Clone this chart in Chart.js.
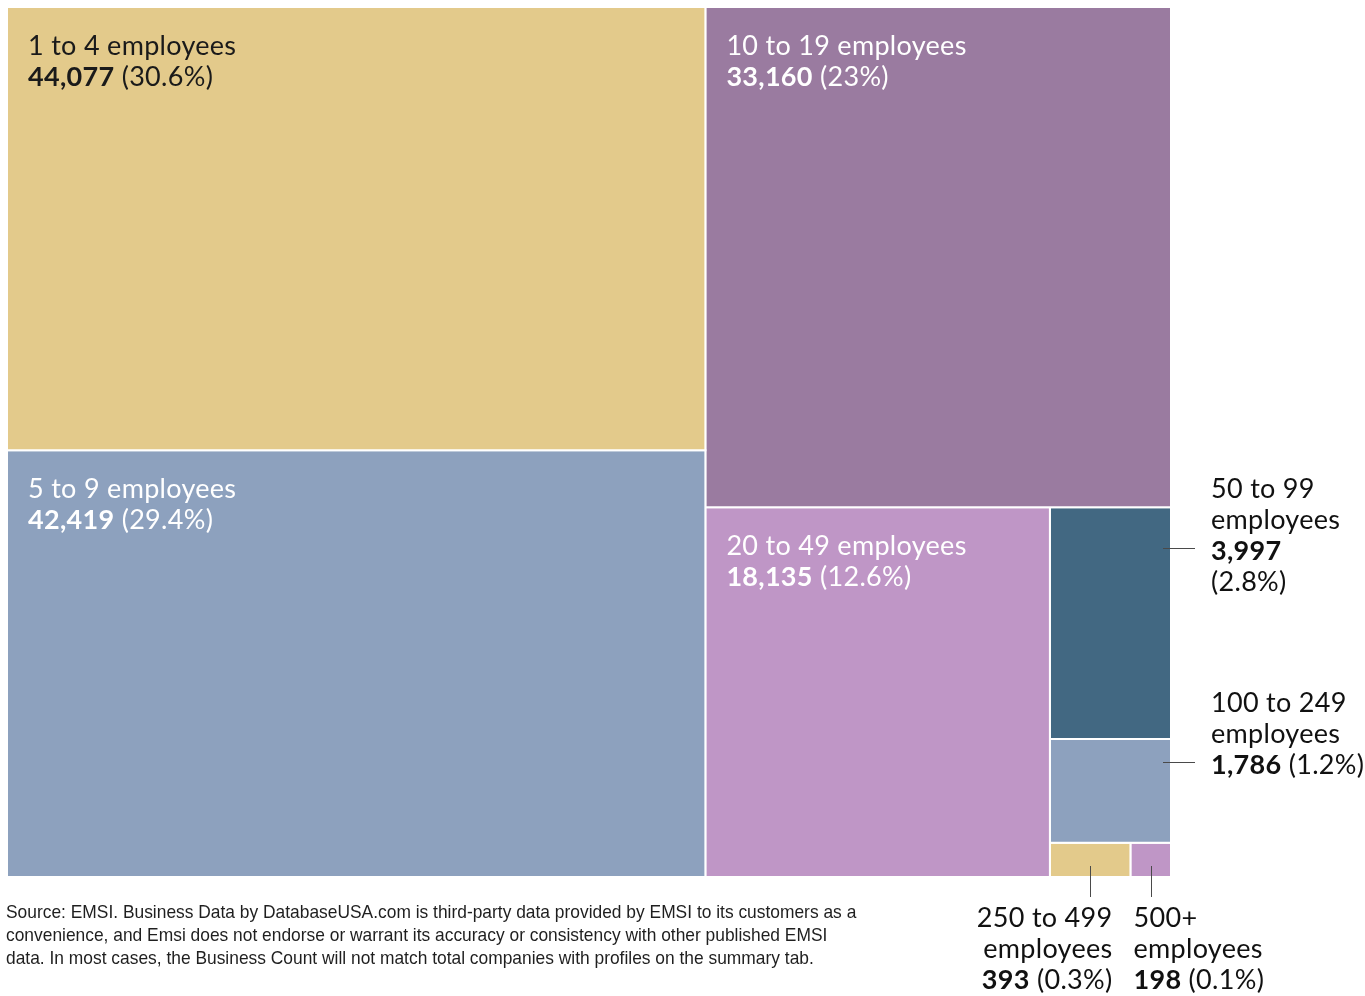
<!DOCTYPE html>
<html>
<head>
<meta charset="utf-8">
<script src="https://cdn.jsdelivr.net/npm/chart.js@4.4.1/dist/chart.umd.min.js"></script>
<style>
  html, body { margin: 0; padding: 0; background: #ffffff; }
  #wrap { position: relative; width: 1365px; height: 996px; }
  canvas { display: block; }
</style>
</head>
<body>
<div id="wrap"><canvas id="chart" width="1365" height="996"></canvas></div>
<script>
// Business counts by company size
const sizeBands = ['1 to 4', '5 to 9', '10 to 19', '20 to 49', '50 to 99', '100 to 249', '250 to 499', '500+'];
const businessCounts = [44077, 42419, 33160, 18135, 3997, 1786, 393, 198];
const countLabels = ['44,077', '42,419', '33,160', '18,135', '3,997', '1,786', '393', '198'];
const shareLabels = ['30.6%', '29.4%', '23%', '12.6%', '2.8%', '1.2%', '0.3%', '0.1%'];
const cellColors = ['#e3ca8b', '#8da1be', '#9a7ba0', '#bf96c6', '#426882', '#8da1be', '#e3ca8b', '#bf96c6'];
const sourceNote = [
  'Source: EMSI. Business Data by DatabaseUSA.com is third-party data provided by EMSI to its customers as a',
  'convenience, and Emsi does not endorse or warrant its accuracy or consistency with other published EMSI',
  'data. In most cases, the Business Count will not match total companies with profiles on the summary tab.'
];

const CANVAS_W = 1365, CANVAS_H = 996;
const PAD = { left: 7, top: 7, right: 194, bottom: 119 };
const ASPECT = (CANVAS_W - PAD.left - PAD.right) / (CANVAS_H - PAD.top - PAD.bottom);

// Squarified treemap layout in data units (x: 0..ASPECT, y: 0..1)
function squarify(values, rect) {
  const total = values.reduce((a, b) => a + b, 0);
  const k = rect.w * rect.h / total;
  const areas = values.map(v => v * k);
  const sum = arr => arr.reduce((a, b) => a + b, 0);
  const worst = (row, side) => {
    const s = sum(row), mx = Math.max(...row), mn = Math.min(...row);
    return Math.max(side * side * mx / (s * s), (s * s) / (side * side * mn));
  };
  const out = [];
  let r = { ...rect };
  let i = 0;
  while (i < areas.length) {
    const side = Math.min(r.w, r.h);
    const row = [areas[i]];
    let j = i + 1;
    while (j < areas.length && worst([...row, areas[j]], side) <= worst(row, side)) {
      row.push(areas[j]);
      j++;
    }
    const s = sum(row);
    if (r.w >= r.h) {
      const cw = s / r.h;
      let y = r.y;
      row.forEach(a => { const h = a / cw; out.push({ x0: r.x, x1: r.x + cw, y0: y, y1: y + h }); y += h; });
      r = { x: r.x + cw, y: r.y, w: r.w - cw, h: r.h };
    } else {
      const rh = s / r.w;
      let x = r.x;
      row.forEach(a => { const w = a / rh; out.push({ x0: x, x1: x + w, y0: r.y, y1: r.y + rh }); x += w; });
      r = { x: r.x, y: r.y + rh, w: r.w, h: r.h - rh };
    }
    i = j;
  }
  return out;
}

const cells = squarify(businessCounts, { x: 0, y: 0, w: ASPECT, h: 1 });

// Each cell is a closed outline filled as a shape
const datasets = cells.map((c, i) => ({
  label: sizeBands[i] + ' employees',
  data: [
    { x: c.x0, y: c.y0 }, { x: c.x1, y: c.y0 }, { x: c.x1, y: c.y1 },
    { x: c.x0, y: c.y1 }, { x: c.x0, y: c.y0 }
  ],
  showLine: true,
  fill: 'shape',
  backgroundColor: cellColors[i],
  borderColor: '#ffffff',
  borderWidth: 2,
  pointRadius: 0,
  tension: 0
}));

const FONT = '"Lato", "Open Sans", sans-serif';
const SIZE = 27;
const LINE = 31;

// Label styles: inside cells for the large bands, callouts for the small ones
const labelMode = ['inside', 'inside', 'inside', 'inside', 'right', 'right', 'bottom', 'bottom'];
const insideColor = ['#1a1a1a', '#ffffff', '#ffffff', '#ffffff'];
const calloutOffset = [0, 0, 0, 0, 41, 23, 0, 0];

function drawRuns(ctx, runs, x, y, align) {
  ctx.letterSpacing = '0.3px';
  let total = 0;
  runs.forEach(r => { ctx.font = (r.bold ? '700 ' : '400 ') + SIZE + 'px ' + FONT; total += ctx.measureText(r.t).width; });
  let cx = align === 'right' ? x - total : x;
  ctx.textAlign = 'left';
  runs.forEach(r => {
    ctx.font = (r.bold ? '700 ' : '400 ') + SIZE + 'px ' + FONT;
    ctx.fillText(r.t, cx, y);
    cx += ctx.measureText(r.t).width;
  });
  ctx.letterSpacing = '0px';
}

const labelPlugin = {
  id: 'treemapLabels',
  afterDatasetsDraw(chart) {
    const { ctx, scales: { x, y } } = chart;
    ctx.save();
    ctx.textBaseline = 'alphabetic';
    cells.forEach((c, i) => {
      const L = x.getPixelForValue(c.x0), R = x.getPixelForValue(c.x1);
      const T = y.getPixelForValue(c.y0), B = y.getPixelForValue(c.y1);
      const mode = labelMode[i];
      if (mode === 'inside') {
        ctx.fillStyle = insideColor[i];
        const bx = L + 21, by = T + 48;
        drawRuns(ctx, [{ t: sizeBands[i] + ' employees' }], bx, by, 'left');
        drawRuns(ctx, [{ t: countLabels[i], bold: true }, { t: ' (' + shareLabels[i] + ')' }], bx, by + LINE, 'left');
      } else if (mode === 'right') {
        const ly = Math.round(T + calloutOffset[i]) + 0.5;
        ctx.strokeStyle = '#4a4a4a';
        ctx.lineWidth = 1;
        ctx.beginPath();
        ctx.moveTo(R - 8, ly);
        ctx.lineTo(R + 24, ly);
        ctx.stroke();
        ctx.fillStyle = '#111111';
        const tx = R + 40;
        const lines = [[{ t: sizeBands[i] }], [{ t: 'employees' }]];
        const val = { t: countLabels[i], bold: true };
        const pct = { t: (i === 4 ? '' : ' ') + '(' + shareLabels[i] + ')' };
        if (i === 4) { lines.push([val]); lines.push([pct]); }
        else { lines.push([val, pct]); }
        const valueLine = 2;
        const first = ly + 11 - valueLine * LINE;
        lines.forEach((runs, k) => drawRuns(ctx, runs, tx, first + k * LINE, 'left'));
      } else {
        const lx = Math.round((L + R) / 2) + 0.5;
        ctx.strokeStyle = '#4a4a4a';
        ctx.lineWidth = 1;
        ctx.beginPath();
        ctx.moveTo(lx, B - 11);
        ctx.lineTo(lx, B + 20);
        ctx.stroke();
        ctx.fillStyle = '#111111';
        const right = i === 6;
        const tx = right ? lx + 22 : lx - 18;
        const lines = [[{ t: sizeBands[i] }], [{ t: 'employees' }],
          [{ t: countLabels[i], bold: true }, { t: ' (' + shareLabels[i] + ')' }]];
        lines.forEach((runs, k) => drawRuns(ctx, runs, tx, B + 50 + k * LINE, right ? 'right' : 'left'));
      }
    });

    // source note, set in a condensed face
    ctx.fillStyle = '#1f1f1f';
    ctx.font = '400 19px "Liberation Sans", sans-serif';
    sourceNote.forEach((line, k) => {
      ctx.save();
      ctx.translate(6, 918 + k * 23);
      ctx.scale(0.915, 1);
      ctx.fillText(line, 0, 0);
      ctx.restore();
    });
    ctx.restore();
  }
};

new Chart(document.getElementById('chart'), {
  type: 'scatter',
  data: { datasets },
  options: {
    responsive: false,
    animation: false,
    events: [],
    layout: { padding: PAD },
    scales: {
      x: { type: 'linear', display: false, min: 0, max: ASPECT },
      y: { type: 'linear', display: false, min: 0, max: 1, reverse: true }
    },
    plugins: { legend: { display: false }, tooltip: { enabled: false } }
  },
  plugins: [labelPlugin]
});
</script>
</body>
</html>
